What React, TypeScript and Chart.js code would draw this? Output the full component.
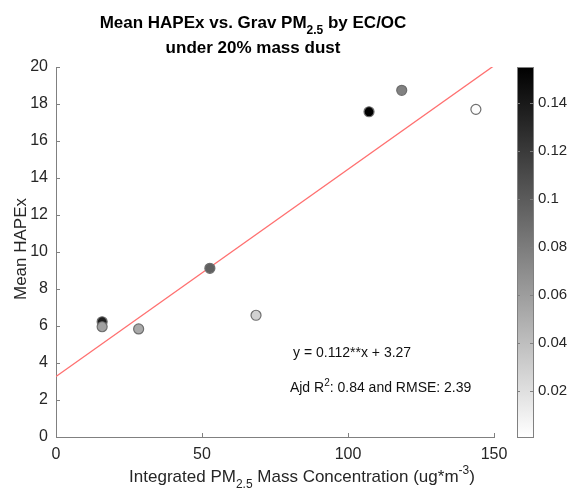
import React, { useEffect, useRef } from "react";
import { Chart, registerables } from "chart.js";

Chart.register(...registerables);

// ---- data ----
const pm25 = [15.8, 15.8, 28.3, 52.7, 68.5, 107.2, 118.4, 143.8];
const hapex = [6.23, 5.96, 5.84, 9.12, 6.58, 17.58, 18.74, 17.71];
const ecoc = [0.136, 0.058, 0.053, 0.097, 0.029, 0.155, 0.077, 0.002];
const fitSlope = 0.112;
const fitIntercept = 3.27;
const fitX = [0, 150];
const xTicks = [0, 50, 100, 150];
const yTicks = [0, 2, 4, 6, 8, 10, 12, 14, 16, 18, 20];
const cbTicks = [0.02, 0.04, 0.06, 0.08, 0.1, 0.12, 0.14];
const cbMin = 0.001;
const cbMax = 0.155;
const annotX = [81.2, 80.1];
const annotY = [4.32, 2.43];

const FONT = "'Liberation Sans', Arial, sans-serif";
const TXT = "#262626";
const AXIS = "#808080";

function grayFor(v: number) {
  const t = Math.max(0, Math.min(1, (v - cbMin) / (cbMax - cbMin)));
  const g = Math.round(255 * (1 - t));
  return `rgb(${g},${g},${g})`;
}

type Seg = { t: string; k?: "sub" | "sup" };

function drawRich(
  ctx: CanvasRenderingContext2D,
  segs: Seg[],
  x: number,
  y: number,
  size: number,
  weight: string,
  align: "center" | "left"
) {
  const fontFor = (s: Seg) => `${weight} ${s.k ? Math.round(size * 0.72) : size}px ${FONT}`;
  let total = 0;
  const widths = segs.map((s) => {
    ctx.font = fontFor(s);
    const w = ctx.measureText(s.t).width;
    total += w;
    return w;
  });
  let cx = align === "center" ? x - total / 2 : x;
  ctx.textAlign = "left";
  ctx.textBaseline = "alphabetic";
  segs.forEach((s, i) => {
    ctx.font = fontFor(s);
    const dy = s.k === "sub" ? size * 0.38 : s.k === "sup" ? -size * 0.45 : 0;
    ctx.fillText(s.t, cx, y + dy);
    cx += widths[i];
  });
}

const decorPlugin = {
  id: "decor",
  afterDraw(chart: any) {
    const ctx: CanvasRenderingContext2D = chart.ctx;
    const ca = chart.chartArea;
    const xs = chart.scales.x;
    const ys = chart.scales.y;
    ctx.save();
    // inward ticks
    ctx.strokeStyle = AXIS;
    ctx.lineWidth = 1;
    ctx.beginPath();
    xTicks.forEach((v) => {
      const px = Math.round(xs.getPixelForValue(v)) + 0.5;
      ctx.moveTo(px, ca.bottom);
      ctx.lineTo(px, ca.bottom - 4);
    });
    yTicks.forEach((v) => {
      const py = Math.round(ys.getPixelForValue(v)) + 0.5;
      ctx.moveTo(ca.left, py);
      ctx.lineTo(ca.left + 4, py);
    });
    ctx.stroke();

    // title
    ctx.fillStyle = "#000";
    drawRich(
      ctx,
      [{ t: "Mean HAPEx vs. Grav PM" }, { t: "2.5", k: "sub" }, { t: " by EC/OC" }],
      253,
      28,
      17,
      "bold",
      "center"
    );
    drawRich(ctx, [{ t: "under 20% mass dust" }], 253, 53, 17, "bold", "center");

    // axis labels
    ctx.fillStyle = TXT;
    drawRich(
      ctx,
      [
        { t: "Integrated PM" },
        { t: "2.5", k: "sub" },
        { t: " Mass Concentration (ug*m" },
        { t: "-3", k: "sup" },
        { t: ")" },
      ],
      302,
      482,
      17,
      "normal",
      "center"
    );
    ctx.save();
    ctx.translate(26, (ca.top + ca.bottom) / 2 - 3);
    ctx.rotate(-Math.PI / 2);
    drawRich(ctx, [{ t: "Mean HAPEx" }], 0, 0, 17, "normal", "center");
    ctx.restore();

    // annotations
    ctx.fillStyle = "#111";
    drawRich(
      ctx,
      [{ t: "y = 0.112**x + 3.27" }],
      xs.getPixelForValue(annotX[0]),
      ys.getPixelForValue(annotY[0]),
      14,
      "normal",
      "left"
    );
    drawRich(
      ctx,
      [{ t: "Ajd R" }, { t: "2", k: "sup" }, { t: ": 0.84 and RMSE: 2.39" }],
      xs.getPixelForValue(annotX[1]),
      ys.getPixelForValue(annotY[1]),
      14,
      "normal",
      "left"
    );

    // colorbar
    const bl = ca.right + 23;
    const bw = 16;
    const bt = ca.top;
    const bb = ca.bottom;
    const grad = ctx.createLinearGradient(0, bt, 0, bb);
    grad.addColorStop(0, grayFor(cbMax));
    grad.addColorStop(1, grayFor(cbMin));
    ctx.fillStyle = grad;
    ctx.fillRect(bl, bt, bw, bb - bt);
    ctx.strokeStyle = AXIS;
    ctx.strokeRect(bl + 0.5, bt + 0.5, bw, bb - bt);
    const cbPix = (v: number) => bb - ((v - cbMin) / (cbMax - cbMin)) * (bb - bt);
    ctx.beginPath();
    cbTicks.forEach((v) => {
      const py = Math.round(cbPix(v)) + 0.5;
      ctx.moveTo(bl + bw, py);
      ctx.lineTo(bl + bw - 3, py);
      ctx.moveTo(bl, py);
      ctx.lineTo(bl + 3, py);
    });
    ctx.stroke();
    ctx.fillStyle = TXT;
    ctx.font = `15px ${FONT}`;
    ctx.textAlign = "left";
    ctx.textBaseline = "middle";
    cbTicks.forEach((v) => {
      ctx.fillText(String(v), bl + bw + 5, cbPix(v));
    });
    ctx.restore();
  },
};

export default function App() {
  const ref = useRef<HTMLCanvasElement | null>(null);
  useEffect(() => {
    document.body.style.margin = "0";
    const canvas = ref.current!;
    const chart = new Chart(canvas, {
      type: "scatter",
      data: {
        datasets: [
          {
            type: "line",
            label: "fit",
            data: fitX.map((x) => ({ x, y: fitSlope * x + fitIntercept })),
            borderColor: "#ff7070",
            borderWidth: 1.3,
            pointRadius: 0,
            fill: false,
            order: 2,
          } as any,
          {
            type: "scatter",
            label: "points",
            data: pm25.map((x, i) => ({ x, y: hapex[i] })),
            backgroundColor: ecoc.map(grayFor),
            borderColor: "#6e6e6e",
            borderWidth: 1.2,
            pointRadius: 5,
            order: 1,
          },
        ],
      },
      options: {
        animation: false,
        responsive: false,
        maintainAspectRatio: false,
        layout: { padding: { left: 0, right: 75, top: 67, bottom: 0 } },
        plugins: { legend: { display: false }, tooltip: { enabled: false }, title: { display: false } },
        scales: {
          x: {
            type: "linear",
            min: 0,
            max: 150,
            afterFit: (s: any) => {
              s.height = 56;
            },
            afterBuildTicks: (s: any) => {
              s.ticks = xTicks.map((v) => ({ value: v }));
            },
            ticks: { color: TXT, font: { family: FONT, size: 16 }, padding: 8, maxRotation: 0 },
            grid: { display: true, drawOnChartArea: false, drawTicks: false, color: AXIS },
            border: { display: true, color: AXIS, width: 1 },
          },
          y: {
            type: "linear",
            min: 0,
            max: 20,
            afterFit: (s: any) => {
              s.width = 56;
            },
            afterBuildTicks: (s: any) => {
              s.ticks = yTicks.map((v) => ({ value: v }));
            },
            ticks: { color: TXT, font: { family: FONT, size: 16 }, padding: 8 },
            grid: { display: true, drawOnChartArea: false, drawTicks: false, color: AXIS },
            border: { display: true, color: AXIS, width: 1 },
          },
        },
      },
      plugins: [decorPlugin],
    } as any);
    return () => chart.destroy();
  }, []);
  return (
    <div style={{ width: 569, height: 493, background: "#fff" }}>
      <canvas ref={ref} width={569} height={493} style={{ display: "block" }} />
    </div>
  );
}
